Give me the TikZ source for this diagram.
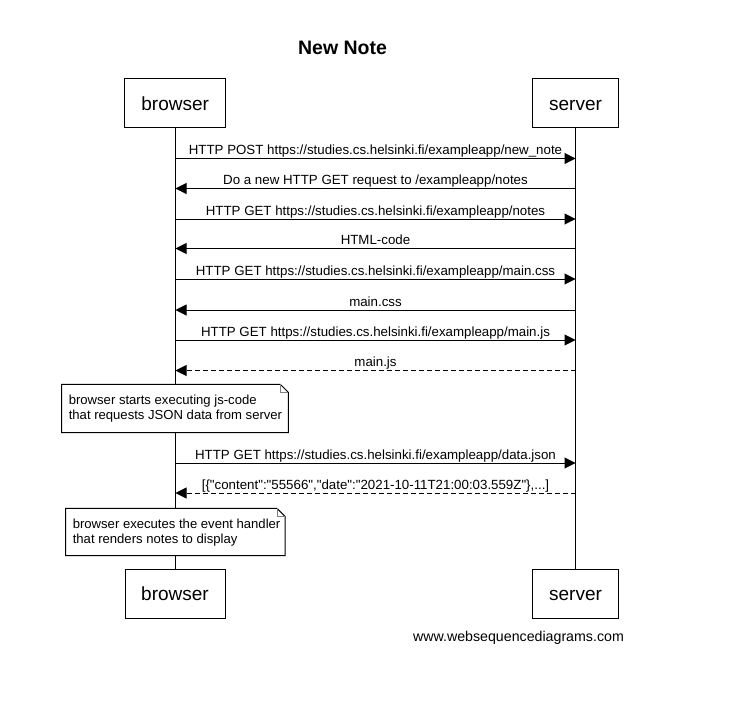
\documentclass[tikz,border=0pt]{standalone}
\usepackage{fontspec}
\setmainfont{Liberation Sans}
\newfontfamily\rawsans{Liberation Sans}
\usetikzlibrary{arrows.meta}
\begin{document}
\begin{tikzpicture}[x=1pt,y=-1pt,line width=1pt,
  actor/.style={draw,fill=white,minimum height=49pt,inner sep=0pt,text height=13.7pt,text depth=0pt,font=\fontsize{19}{22}\selectfont},
  msg/.style={-{Triangle[length=11pt,width=11pt]}},
  reply/.style={msg,dash pattern=on 5pt off 3pt},
  lbl/.style={anchor=base,yshift=4pt,inner sep=0pt,font=\fontsize{13.3}{15}\selectfont},
  notetext/.style={anchor=west,align=left,inner sep=0pt,font=\fontsize{13.1}{15}\selectfont},
  noteline/.style={line width=1pt,fill=white},
  foldline/.style={line width=1pt,draw=gray}]
\useasboundingbox (0,0) rectangle (738,714);
\fill[white] (0,0) rectangle (738,714);

% title
\node[font=\fontsize{19.5}{22}\selectfont\bfseries] (title) at (342.5,48) {New Note};

% participants
\node[actor,minimum width=101pt] (bt) at (175.2,103.5) {browser};
\node[actor,minimum width=86pt] (st) at (575.5,103.5) {server};
\node[actor,minimum width=100pt] (bb) at (175,593.5) {browser};
\node[actor,minimum width=86pt] (sb) at (575.5,593.5) {server};

% lifelines
\draw (bt.south -| 175.5,0) -- (bb.north -| 175.5,0);
\draw (st.south) -- (sb.north);

% message end points
\foreach \i/\y in {1/158.5,2/188.5,3/219,4/248.5,5/279,6/310,7/340,8/370.5,9/463,10/493}{
  \coordinate (b\i) at (175.5,\y);
  \coordinate (s\i) at (575.5,\y);
}

\draw[msg] (b1) -- node[lbl] (l1) {HTTP POST https://studies.cs.helsinki.fi/exampleapp/new\_note} (s1);
\draw[msg] (s2) -- node[lbl] (l2) {Do a new HTTP GET request to /exampleapp/notes} (b2);
\draw[msg] (b3) -- node[lbl] (l3) {HTTP GET https://studies.cs.helsinki.fi/exampleapp/notes} (s3);
\draw[msg] (s4) -- node[lbl] (l4) {HTML-code} (b4);
\draw[msg] (b5) -- node[lbl] (l5) {HTTP GET https://studies.cs.helsinki.fi/exampleapp/main.css} (s5);
\draw[msg] (s6) -- node[lbl] (l6) {main.css} (b6);
\draw[msg] (b7) -- node[lbl] (l7) {HTTP GET https://studies.cs.helsinki.fi/exampleapp/main.js} (s7);
\draw[reply] (s8) -- node[lbl] (l8) {main.js} (b8);
\draw[msg] (b9) -- node[lbl] (l9) {HTTP GET https://studies.cs.helsinki.fi/exampleapp/data.json} (s9);
\draw[reply] (s10) -- node[lbl] (l10) {\rawsans [\{"content":"55566","date":"2021-10-11T21:00:03.559Z"\},...]} (b10);

% notes
\draw[noteline] (61.7,384.3) -- (280.3,384.3) -- (288.3,392.3) -- (288.3,432.7) -- (61.7,432.7) -- cycle;
\draw[foldline] (280.3,384.3) |- (288.3,392.3);
\node[notetext] (n1) at (68.3,409)
  {browser starts executing js-code\\that requests JSON data from server};

\draw[noteline] (65.7,508.3) -- (277,508.3) -- (285,516.3) -- (285,555.7) -- (65.7,555.7) -- cycle;
\draw[foldline] (277,508.3) |- (285,516.3);
\node[notetext] (n2) at (72.3,532.5)
  {browser executes the event handler\\that renders notes to display};

% footer
\node[anchor=base,inner sep=0pt,font=\fontsize{14.2}{16}\selectfont] (wsd) at (518.5,641.5) {www.websequencediagrams.com};
\end{tikzpicture}
\end{document}
